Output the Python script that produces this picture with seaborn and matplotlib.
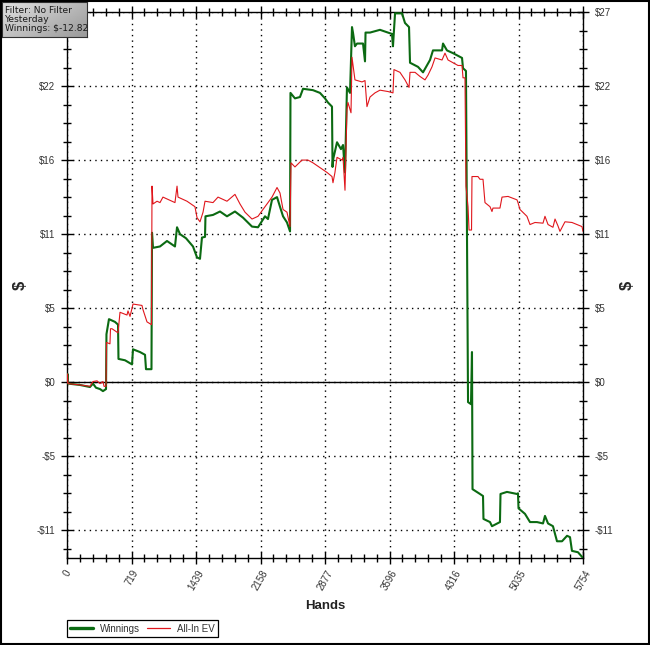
import numpy as np
import pandas as pd
import matplotlib
matplotlib.use("Agg")
import matplotlib.pyplot as plt
from matplotlib.lines import Line2D
from matplotlib.patches import Rectangle
from matplotlib.ticker import MultipleLocator
import seaborn as sns

# ---------------- data ----------------
win_hands = [0, 6, 11, 145, 256, 290, 323, 368, 401, 435, 440, 468, 535, 569, 574, 647, 725, 736, 814, 870,
             881, 942, 948, 959, 1037, 1115, 1204, 1227, 1260, 1327, 1405, 1450, 1483, 1505, 1539, 1544, 1628,
             1706, 1784, 1873, 1963, 2063, 2130, 2208, 2241, 2286, 2342, 2375, 2409, 2453, 2487, 2492, 2542,
             2598, 2632, 2743, 2821, 2877, 2910, 2955, 2961, 2966, 3011, 3055, 3078, 3100, 3122, 3156, 3178,
             3189, 3211, 3234, 3301, 3323, 3329, 3379, 3490, 3579, 3624, 3635, 3658, 3736, 3769, 3814, 3825,
             3914, 3970, 4048, 4081, 4182, 4193, 4237, 4304, 4405, 4416, 4449, 4472, 4505, 4516, 4522, 4605,
             4639, 4644, 4717, 4739, 4828, 4834, 4906, 5018, 5029, 5035, 5107, 5163, 5241, 5308, 5330, 5364,
             5419, 5464, 5520, 5576, 5609, 5631, 5698, 5754]
win_vals = [0.0, 0.6, -0.1, -0.2, -0.35, -0.1, -0.4, -0.5, -0.65, -0.5, 3.5, 4.6, 4.4, 4.2, 1.7, 1.6, 1.3, 2.4,
            2.2, 2.0, 0.95, 0.95, 10.9, 9.8, 9.9, 10.3, 9.9, 11.3, 10.8, 10.5, 9.9, 9.1, 9.0, 10.55, 10.6, 12.1,
            12.2, 12.45, 12.1, 12.45, 12.0, 11.35, 11.3, 12.1, 11.9, 13.3, 13.5, 12.8, 12.1, 11.65, 11.0, 21.1,
            20.7, 20.8, 21.4, 21.3, 21.1, 20.7, 20.4, 20.1, 15.7, 16.2, 17.5, 17.0, 17.3, 15.3, 21.5, 21.1, 25.9,
            25.5, 24.5, 24.7, 24.7, 23.4, 25.5, 25.5, 25.7, 25.5, 25.4, 24.5, 26.9, 26.9, 26.2, 25.9, 23.3, 23.0,
            22.6, 23.5, 24.2, 24.2, 24.7, 24.2, 24.0, 23.65, 22.9, 22.7, -1.45, -1.6, 2.2, -7.8, -8.15, -8.3,
            -9.97, -10.2, -10.5, -10.2, -8.15, -8.0, -8.15, -8.1, -9.2, -9.6, -10.2, -10.2, -10.3, -9.75, -10.3,
            -10.5, -11.6, -11.6, -11.2, -11.3, -12.3, -12.4, -12.82]

ev_hands = [0, 6, 11, 145, 256, 290, 335, 368, 401, 413, 435, 440, 479, 485, 502, 569, 591, 669, 680, 703, 736,
            836, 847, 892, 942, 948, 959, 1004, 1037, 1070, 1204, 1227, 1238, 1338, 1427, 1450, 1483, 1517, 1539,
            1628, 1684, 1784, 1873, 1929, 1985, 2063, 2130, 2208, 2286, 2342, 2375, 2409, 2453, 2487, 2498, 2542,
            2620, 2687, 2743, 2855, 2899, 2955, 2966, 2988, 3011, 3067, 3078, 3100, 3122, 3133, 3167, 3178, 3211,
            3290, 3323, 3345, 3379, 3434, 3490, 3579, 3635, 3646, 3713, 3769, 3814, 3825, 3881, 3936, 3992, 4026,
            4070, 4104, 4182, 4215, 4249, 4304, 4360, 4405, 4416, 4438, 4449, 4472, 4483, 4511, 4516, 4583, 4605,
            4639, 4661, 4717, 4739, 4750, 4828, 4851, 4918, 5018, 5029, 5051, 5129, 5163, 5219, 5308, 5330, 5364,
            5419, 5442, 5475, 5497, 5553, 5631, 5687, 5743, 5754]
ev_vals = [0.0, 0.6, -0.1, -0.2, -0.3, 0.05, 0.1, -0.1, 0.05, -0.3, -0.3, 2.9, 2.8, 3.9, 3.9, 3.6, 5.1, 4.9, 5.2,
           4.8, 5.7, 5.6, 5.3, 4.4, 4.2, 14.3, 13.0, 13.2, 13.1, 13.5, 13.1, 14.3, 13.5, 13.2, 12.8, 12.0, 11.7,
           12.4, 13.2, 13.1, 13.5, 13.2, 13.7, 13.0, 12.4, 11.9, 12.1, 12.8, 13.5, 14.2, 13.8, 12.6, 12.4, 11.35,
           16.0, 15.7, 16.2, 16.2, 16.0, 15.5, 15.3, 15.0, 14.55, 15.3, 16.4, 16.2, 16.4, 14.0, 19.9, 20.4, 19.65,
           23.7, 22.05, 21.9, 22.0, 20.1, 20.8, 21.1, 21.3, 21.2, 21.1, 22.8, 22.6, 22.05, 21.5, 22.6, 22.6, 22.3,
           22.05, 22.4, 23.0, 23.65, 23.5, 24.0, 23.5, 23.3, 23.1, 23.1, 22.2, 22.2, 14.3, 12.8, 11.1, 11.1, 15.0,
           15.0, 14.8, 14.8, 13.1, 12.8, 12.45, 12.7, 12.7, 13.5, 13.55, 13.3, 13.1, 12.6, 12.1, 11.5, 11.65,
           11.6, 12.1, 11.5, 11.3, 11.9, 11.4, 11.0, 11.7, 11.65, 11.5, 11.35, 11.0]

x_ticks = [0, 719.25, 1438.5, 2157.75, 2877, 3596.25, 4315.5, 5034.75, 5754]
x_tick_labels = ["0", "719", "1439", "2158", "2877", "3596", "4316", "5035", "5754"]
y_ticks = [-10.8, -5.4, 0, 5.4, 10.8, 16.2, 21.6, 27]
y_tick_labels = ["-$11", "-$5", "$0", "$5", "$11", "$16", "$22", "$27"]
info_lines = ["Filter: No Filter", "Yesterday", "Winnings: $-12.82"]
series_names = ["Winnings", "All-In EV"]

assert len(win_hands) == len(win_vals)
assert len(ev_hands) == len(ev_vals)

# ---------------- figure ----------------
sns.set_theme(style="white")
plt.rcParams["font.family"] = ["Liberation Sans", "DejaVu Sans"]

W, H = 650, 645
fig = plt.figure(figsize=(6.5, 6.45), dpi=100)
fig.patch.set_facecolor("white")

L, R, T, B = 67, 583, 12, 558
ax = fig.add_axes([L / W, 1 - B / H, (R - L) / W, (B - T) / H])
ax.set_facecolor("white")

GREEN = "#0b6a12"
RED = "#e0161c"

win_df = pd.DataFrame({"Hands": win_hands, "Value": win_vals})
ev_df = pd.DataFrame({"Hands": ev_hands, "Value": ev_vals})

ax.axhline(0, color="black", lw=1.0, zorder=2)
sns.lineplot(data=win_df, x="Hands", y="Value", sort=False, estimator=None, color=GREEN,
             lw=1.5, ax=ax, zorder=3)
sns.lineplot(data=ev_df, x="Hands", y="Value", sort=False, estimator=None, color=RED,
             lw=0.8, ax=ax, zorder=4)

ax.set_xlim(0, 5754)
ax.set_ylim(-12.82, 27)

ax.set_xticks(x_ticks)
ax.set_xticklabels(x_tick_labels, rotation=60, ha="center", va="top", fontsize=7, color="#333333")
ax.xaxis.set_minor_locator(MultipleLocator(719.25 / 5))
ax.set_yticks(y_ticks)
ax.set_yticklabels(y_tick_labels, fontsize=7, color="#333333")
ax.yaxis.set_minor_locator(MultipleLocator(1.35))

ax.tick_params(which="major", direction="inout", length=9, width=1, color="black",
               top=True, right=True, bottom=True, left=True, labelright=True, pad=4)
ax.tick_params(which="minor", direction="inout", length=6, width=1, color="black",
               top=True, right=True, bottom=True, left=True)
ax.tick_params(axis="x", which="major", pad=3)

# left "$27" label is hidden under the info box in the reference
ax.yaxis.get_major_ticks()[-1].label1.set_visible(False)

ax.grid(True, which="major", color="black", linestyle=(0, (1, 3)), linewidth=1.0)
for s in ax.spines.values():
    s.set_color("black")
    s.set_linewidth(1.0)
ax.set_xlabel("")
ax.set_ylabel("")

# axis titles
fig.text(325 / W, 1 - 606 / H, "Hands", ha="center", va="center", fontsize=9.5, fontweight="bold", color="#222222")
fig.text(20 / W, 1 - 285 / H, "$", ha="center", va="center", fontsize=12, fontweight="bold", rotation=90)
fig.text(627 / W, 1 - 285 / H, "$", ha="center", va="center", fontsize=12, fontweight="bold", rotation=90)

# legend
handles = [Line2D([0], [0], color=GREEN, lw=2.4), Line2D([0], [0], color=RED, lw=0.9)]
leg = fig.legend(handles, series_names, loc="lower left", bbox_to_anchor=(67 / W, 1 - 637 / H),
                 ncol=2, fontsize=7, frameon=True, fancybox=False, framealpha=1, edgecolor="black",
                 handlelength=2.3, handletextpad=0.7, columnspacing=0.8, borderpad=0.35, borderaxespad=0)
leg.get_frame().set_linewidth(0.9)
for t in leg.get_texts():
    t.set_color("#333333")

# info box with gradient
iax = fig.add_axes([2 / W, 1 - 37 / H, 85 / W, 35 / H])
gx = np.linspace(0, 1, 100)
gy = np.linspace(0, 1, 40)
GX, GY = np.meshgrid(gx, gy)
grad = 0.88 - 0.28 * (0.6 * GX + 0.4 * GY)
iax.imshow(grad, cmap="gray", vmin=0, vmax=1, aspect="auto", extent=[0, 1, 0, 1], origin="upper")
iax.set_xlim(0, 1)
iax.set_ylim(0, 1)
iax.set_xticks([])
iax.set_yticks([])
for s in iax.spines.values():
    s.set_color("#333333")
    s.set_linewidth(0.8)
iax.text(0.03, 0.5, "\n".join(info_lines), transform=iax.transAxes, ha="left", va="center",
         fontsize=6.6, color="#1a1a1a", family=["DejaVu Sans"], linespacing=1.05)

# outer border
fig.patches.append(Rectangle((0.001, 0.001), 0.997, 0.997, transform=fig.transFigure, fill=False,
                             edgecolor="black", linewidth=1.5))

fig.savefig("out.png", dpi=100)
